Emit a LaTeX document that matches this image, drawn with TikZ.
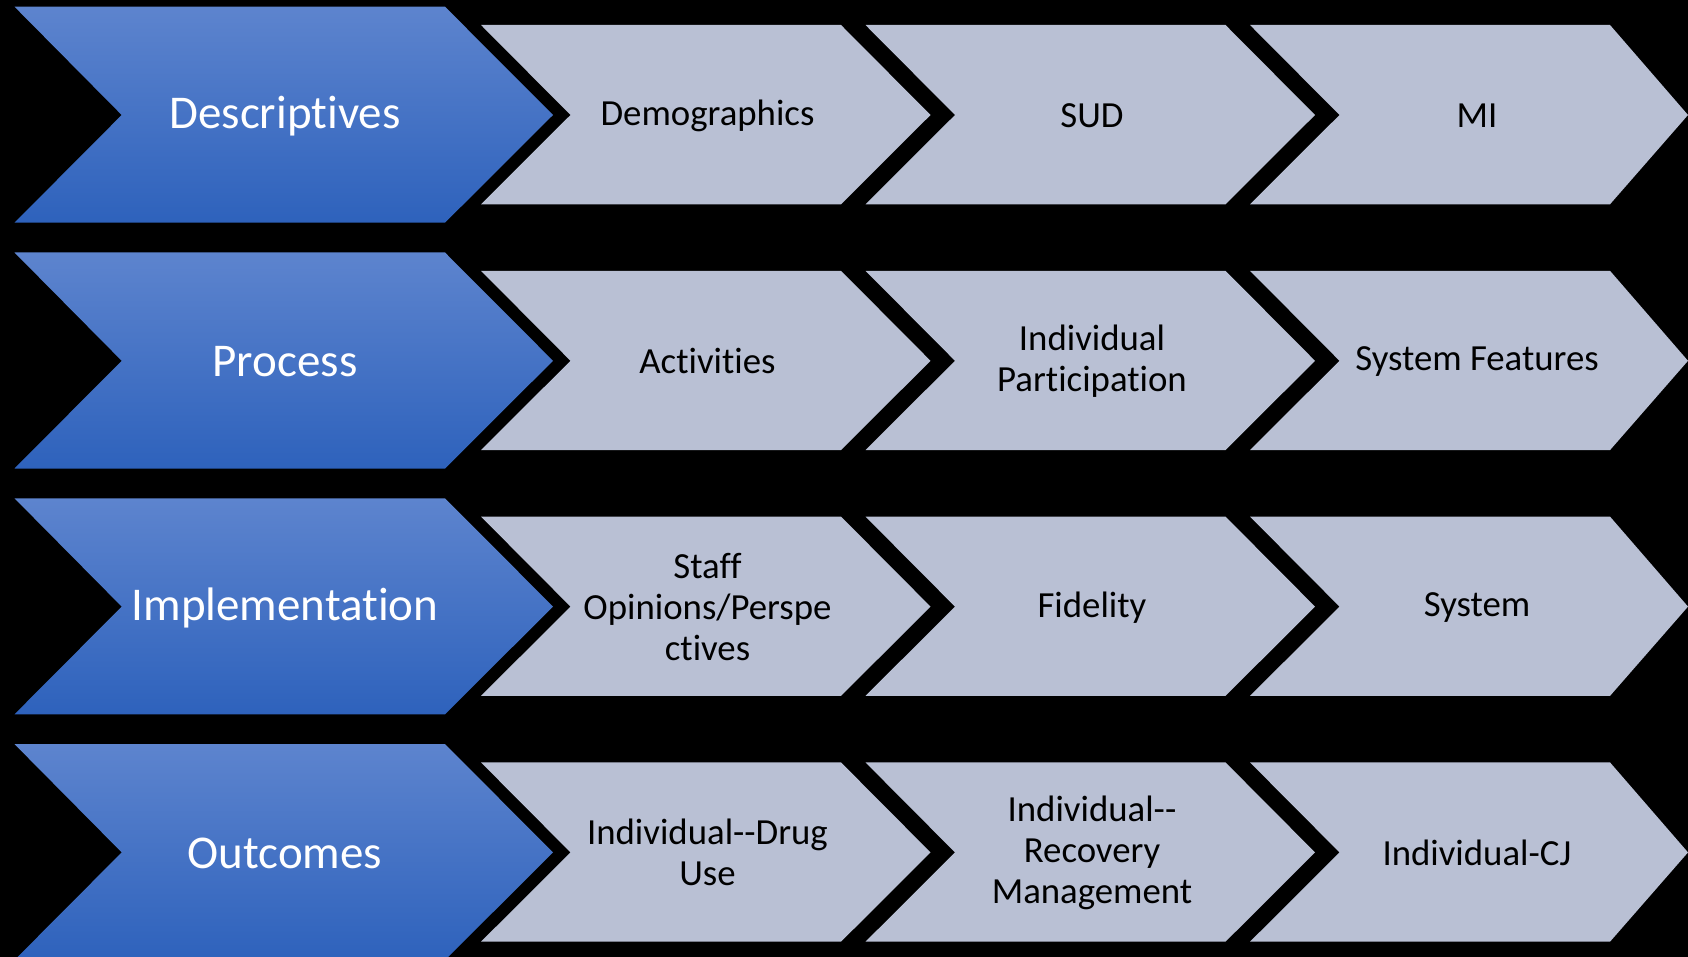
\documentclass[tikz,border=0pt]{standalone}
\usepackage{fontspec}
\setmainfont{Carlito}[Ligatures=CommonOff]

\definecolor{phasetop}{RGB}{93,132,206}
\definecolor{phasebot}{RGB}{46,98,188}
\definecolor{itemgray}{RGB}{185,192,212}

% two hyphens that stay two hyphens
\newcommand{\ddash}{-\kern0pt-}

\begin{document}
\begin{tikzpicture}[
    x=1pt, y=-1pt,
    phase/.style={top color=phasetop, bottom color=phasebot},
    item/.style={fill=itemgray},
    phaselabel/.style={text=white, align=center, font=\fontsize{47}{52}\selectfont},
    itemlabel/.style={text=black, align=center, font=\fontsize{36.8}{41}\selectfont}
]
\useasboundingbox (0,0) rectangle (1688,957);
\fill[black] (0,0) rectangle (1688,957);
\clip (0,0) rectangle (1688,957);

% blue phase chevrons, one per row
\foreach \r in {0,...,3} {
    \pgfmathsetmacro\dy{245.8*\r}
    \shade[phase] (14.5,6.7+\dy) -- (445,6.7+\dy) -- (553,115+\dy)
        -- (445,222.7+\dy) -- (14.5,222.7+\dy) -- (121.7,115+\dy) -- cycle;
}

% grey item chevrons, three per row
\foreach \r in {0,...,3}
\foreach \c in {0,1,2} {
    \pgfmathsetmacro\dy{245.8*\r}
    \pgfmathsetmacro\lx{481+384.5*\c}
    \pgfmathsetmacro\tip{\c==2 ? 78 : 89.5}
    \fill[item] (\lx,25+\dy) -- (\lx+360,25+\dy) -- (\lx+360+\tip,115+\dy)
        -- (\lx+360,204.3+\dy) -- (\lx,204.3+\dy) -- (\lx+89.5,115+\dy) -- cycle;
}

\node[phaselabel] (desc) at (285,116)   {Descriptives};
\node[phaselabel] (proc) at (285,361.8) {Process};
\node[phaselabel] (impl) at (285,607.6) {Implementation};
\node[phaselabel] (outc) at (285,853.4) {Outcomes};

\node[itemlabel] (demog)   at (707.5,116) {Demographics};
\node[itemlabel] (sud)     at (1092,116)  {SUD};
\node[itemlabel] (mi)      at (1477,116)  {MI};

\node[itemlabel] (activ)   at (707.5,360.8) {Activities};
\node[itemlabel] (indpart) at (1092,360.8)  {Individual\\Participation};
\node[itemlabel] (sysfeat) at (1477,361.8)  {System Features};

\node[itemlabel] (staff)   at (707.5,606.6) {Staff\\Opinions/Perspe\\ctives};
\node[itemlabel] (fidel)   at (1092,607.6)  {Fidelity};
\node[itemlabel] (system)  at (1477,607.6)  {System};

\node[itemlabel] (drug)    at (707.5,852.4) {Individual\ddash Drug\\Use};
\node[itemlabel] (recov)   at (1092,852.4)  {Individual\ddash\\Recovery\\Management};
\node[itemlabel] (cj)      at (1477,852.4)  {Individual-CJ};
\end{tikzpicture}
\end{document}
